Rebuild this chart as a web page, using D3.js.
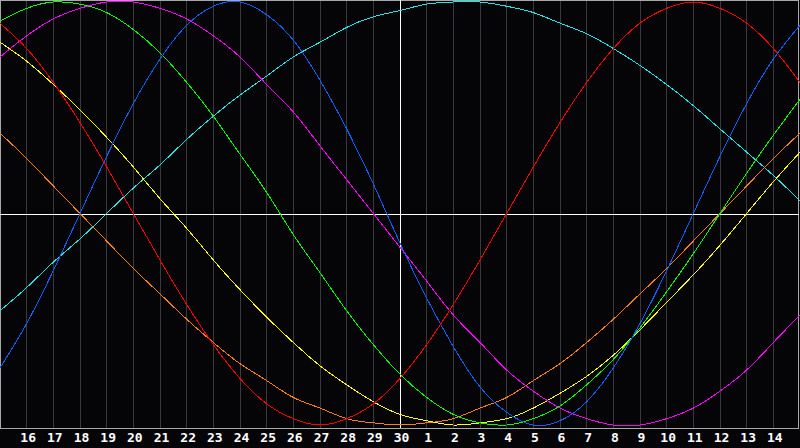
<!DOCTYPE html>
<html>
<head>
<meta charset="utf-8">
<script src="https://cdn.jsdelivr.net/npm/d3@7/dist/d3.min.js"></script>
<style>
  html, body { margin: 0; padding: 0; background: #050508; }
  svg { display: block; }
</style>
</head>
<body>
<svg id="chart" width="800" height="448"></svg>
<script>
// Day labels (15th of one month through 15th of the next; 30 = today, centre)
const days = [15,16,17,18,19,20,21,22,23,24,25,26,27,28,29,30,1,2,3,4,5,6,7,8,9,10,11,12,13,14,15];

// Series values per day (-1 .. 1)
const red = [0.90,0.78,0.62,0.43,0.22,0,-0.22,-0.43,-0.62,-0.78,-0.90,-0.97,-1,-0.97,-0.90,-0.78,-0.62,-0.43,-0.22,0,0.22,0.43,0.62,0.78,0.90,0.97,1,0.97,0.90,0.78,0.62];
const blue = [-0.73,-0.52,-0.27,0,0.27,0.52,0.73,0.89,0.98,1.00,0.94,0.82,0.63,0.40,0.14,-0.14,-0.40,-0.63,-0.82,-0.94,-1.00,-0.98,-0.89,-0.73,-0.52,-0.27,0,0.27,0.52,0.73,0.89];
const green = [0.91,0.97,1.00,0.99,0.95,0.87,0.76,0.62,0.46,0.28,0.10,-0.10,-0.28,-0.46,-0.62,-0.76,-0.87,-0.95,-0.99,-1.00,-0.97,-0.91,-0.81,-0.69,-0.54,-0.37,-0.19,0,0.19,0.37,0.54];
const magenta = [0.74,0.84,0.92,0.97,1.00,1.00,0.97,0.92,0.84,0.74,0.61,0.48,0.32,0.16,0,-0.16,-0.32,-0.48,-0.61,-0.74,-0.84,-0.92,-0.97,-1.00,-1.00,-0.97,-0.92,-0.84,-0.74,-0.61,-0.48];
const yellow = [0.81,0.72,0.61,0.49,0.36,0.22,0.07,-0.07,-0.22,-0.36,-0.49,-0.61,-0.72,-0.81,-0.89,-0.95,-0.98,-1.00,-0.99,-0.97,-0.92,-0.85,-0.77,-0.67,-0.55,-0.42,-0.29,-0.15,0,0.15,0.29];
const orange = [0.38,0.26,0.13,0,-0.13,-0.26,-0.38,-0.50,-0.61,-0.71,-0.79,-0.87,-0.92,-0.97,-0.99,-1.00,-0.99,-0.97,-0.92,-0.87,-0.79,-0.71,-0.61,-0.50,-0.38,-0.26,-0.13,0,0.13,0.26,0.38];
const cyan = [-0.46,-0.35,-0.23,-0.12,0,0.12,0.23,0.35,0.46,0.56,0.65,0.74,0.81,0.88,0.93,0.96,0.99,1.00,1.00,0.98,0.95,0.90,0.85,0.78,0.70,0.61,0.51,0.40,0.29,0.18,0.06];

const seriesNames = ["cyan","orange","yellow","magenta","green","blue","red"];
const seriesData = [cyan, orange, yellow, magenta, green, blue, red];
const seriesColors = ["#20e8e8","#ff8010","#ffff00","#ff00ff","#00ff00","#1060ff","#ff0000"];

const W = 800, H = 448;
const svg = d3.select("#chart");

const x = d3.scaleLinear().domain([0, days.length - 1]).range([0, 800]);
const y = d3.scaleLinear().domain([-1, 1]).range([425, 2]);

svg.append("rect").attr("x", 0).attr("y", 0).attr("width", W).attr("height", H).attr("fill", "#050508");

// vertical day gridlines
svg.append("g").selectAll("line")
  .data(d3.range(1, days.length - 1).filter(i => i !== 15))
  .join("line")
  .attr("x1", i => Math.floor(x(i)) + 0.5).attr("x2", i => Math.floor(x(i)) + 0.5)
  .attr("y1", 0).attr("y2", 428)
  .attr("stroke", "#3a3a3e").attr("stroke-width", 1)
  .attr("shape-rendering", "crispEdges");

// plot border
svg.append("rect")
  .attr("x", 0.5).attr("y", 0.5).attr("width", 798).attr("height", 427.5)
  .attr("fill", "none").attr("stroke", "#a8a8a8").attr("stroke-width", 1)
  .attr("shape-rendering", "crispEdges");

// centre lines (today / zero)
svg.append("line")
  .attr("x1", Math.floor(x(15)) + 0.5).attr("x2", Math.floor(x(15)) + 0.5)
  .attr("y1", 0).attr("y2", 428)
  .attr("stroke", "#ffffff").attr("shape-rendering", "crispEdges");
svg.append("line")
  .attr("x1", 0).attr("x2", 799)
  .attr("y1", Math.round(y(0)) + 0.5).attr("y2", Math.round(y(0)) + 0.5)
  .attr("stroke", "#ffffff").attr("shape-rendering", "crispEdges");

// curves
const line = d3.line()
  .x((d, i) => x(i))
  .y(d => y(d))
  .curve(d3.curveNatural);

const plot = svg.append("g");
seriesData.forEach((s, k) => {
  plot.append("path")
    .datum(s)
    .attr("d", line)
    .attr("fill", "none")
    .attr("stroke", seriesColors[k])
    .attr("stroke-width", 1)
    .attr("shape-rendering", "crispEdges")
    .attr("class", "series-" + seriesNames[k]);
});

// day labels
const axis = d3.axisBottom(x)
  .tickValues(d3.range(1, days.length - 1))
  .tickFormat(i => String(days[i]))
  .tickSize(0)
  .tickPadding(0);
const ag = svg.append("g").attr("transform", "translate(1,433)").call(axis);
ag.select(".domain").remove();
ag.selectAll("text")
  .attr("dy", "0.71em")
  .attr("fill", "#ffffff")
  .attr("font-family", "'DejaVu Sans Mono', monospace")
  .attr("font-weight", "bold")
  .attr("font-size", "13px");
</script>
</body>
</html>
